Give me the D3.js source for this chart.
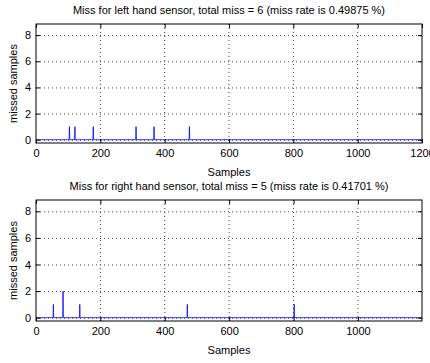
<!DOCTYPE html>
<html>
<head>
<meta charset="utf-8">
<script src="https://cdn.jsdelivr.net/npm/d3@7"></script>
<style>
  body { margin: 0; background: #fff; }
  text { font-family: "Liberation Sans", Arial, sans-serif; fill: #000; }
</style>
</head>
<body>
<script>
const width = 430;
const height = 363;

// samples where a miss was counted, and how many were missed there
const leftMissSamples = [104, 121, 178, 311, 367, 477];
const leftMissCounts = [1, 1, 1, 1, 1, 1];
const rightMissSamples = [54, 84, 136, 470, 802];
const rightMissCounts = [1, 2, 1, 1, 1];

const leftTitle = "Miss for left hand sensor, total miss = 6 (miss rate is 0.49875 %)";
const rightTitle = "Miss for right hand sensor, total miss = 5 (miss rate is 0.41701 %)";

const yTicks = [0, 2, 4, 6, 8];
const xTicksLeft = [0, 200, 400, 600, 800, 1000, 1200];
const xTicksRight = [0, 200, 400, 600, 800, 1000];
const xLabelText = "Samples";
const yLabelText = "missed samples";

const panels = [
  { title: leftTitle, samples: leftMissSamples, counts: leftMissCounts, xTicks: xTicksLeft, xMax: 1200, top: 24, bottom: 143 },
  { title: rightTitle, samples: rightMissSamples, counts: rightMissCounts, xTicks: xTicksRight, xMax: 1199, top: 200, bottom: 321 }
];

const left = 36;
const right = 422;

const svg = d3.select("body").append("svg")
  .attr("width", width)
  .attr("height", height);

svg.append("rect").attr("width", width).attr("height", height).attr("fill", "#fff");

panels.forEach(p => {
  const x = d3.scaleLinear().domain([0, p.xMax]).range([left, right]);
  const y = d3.scaleLinear().domain([-0.25, 8.85]).range([p.bottom, p.top]);

  const g = svg.append("g");

  // dotted grid
  g.selectAll("line.gx").data(p.xTicks.filter(d => d > 0 && d < 1200)).enter().append("line")
    .attr("x1", d => x(d)).attr("x2", d => x(d))
    .attr("y1", p.top).attr("y2", p.bottom)
    .attr("stroke", "#444").attr("stroke-dasharray", "1,3");
  g.selectAll("line.gy").data(yTicks).enter().append("line")
    .attr("y1", d => y(d) + 0.5).attr("y2", d => y(d) + 0.5)
    .attr("x1", left).attr("x2", right)
    .attr("stroke", "#444").attr("stroke-dasharray", "1,3");

  // the miss series, zero everywhere except at the misses
  const pts = [[0, 0]];
  p.samples.forEach((s, i) => {
    pts.push([s - 1, 0], [s, p.counts[i]], [s + 1, 0]);
  });
  pts.push([p.xMax, 0]);

  g.append("path")
    .datum(pts)
    .attr("fill", "none")
    .attr("stroke", "#0000ff")
    .attr("stroke-width", 0.8)
    .attr("d", d3.line().x(d => x(d[0])).y(d => y(d[1])));

  // axes with inward ticks
  const fmt = d3.format("d");
  const xAxis = d3.axisBottom(x).tickValues(p.xTicks).tickFormat(fmt).tickSizeInner(-4).tickSizeOuter(0).tickPadding(6);
  const yAxis = d3.axisLeft(y).tickValues(yTicks).tickFormat(fmt).tickSizeInner(-4).tickSizeOuter(0).tickPadding(5);

  const xg = g.append("g").attr("transform", `translate(0,${p.bottom})`).call(xAxis);
  const yg = g.append("g").attr("transform", `translate(${left},0)`).call(yAxis);
  g.append("g").attr("transform", `translate(0,${p.top})`)
    .call(d3.axisTop(x).tickValues(p.xTicks).tickSizeInner(-4).tickSizeOuter(0).tickFormat(""));
  g.append("g").attr("transform", `translate(${right},0)`)
    .call(d3.axisRight(y).tickValues(yTicks).tickSizeInner(-4).tickSizeOuter(0).tickFormat(""));

  g.selectAll(".domain").remove();
  g.selectAll(".tick line").attr("stroke", "#000");
  [xg, yg].forEach(a => a.selectAll("text")
    .style("font-family", "'Liberation Sans', Arial, sans-serif")
    .style("font-size", "11px"));

  g.append("rect")
    .attr("x", left).attr("y", p.top)
    .attr("width", right - left).attr("height", p.bottom - p.top)
    .attr("fill", "none").attr("stroke", "#000");

  g.append("text")
    .attr("x", (left + right) / 2)
    .attr("y", p.top - 10)
    .attr("text-anchor", "middle")
    .style("font-size", "11px")
    .text(p.title);

  g.append("text")
    .attr("x", (left + right) / 2)
    .attr("y", p.bottom + 33)
    .attr("text-anchor", "middle")
    .style("font-size", "11px")
    .text(xLabelText);

  g.append("text")
    .attr("transform", `translate(17,${(p.top + p.bottom) / 2}) rotate(-90)`)
    .attr("text-anchor", "middle")
    .style("font-size", "11px")
    .text(yLabelText);
});
</script>
</body>
</html>
